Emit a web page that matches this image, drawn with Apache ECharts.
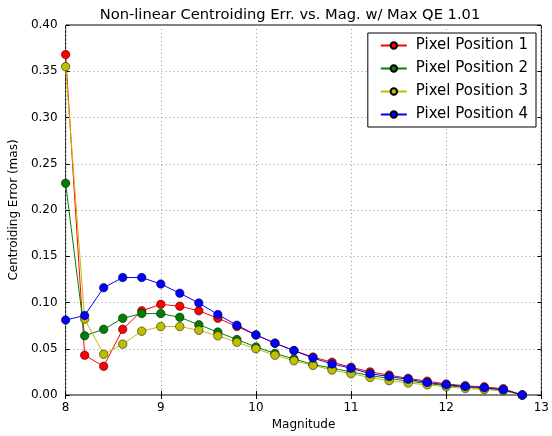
<!DOCTYPE html>
<html>
<head>
<meta charset="utf-8">
<script src="https://cdn.jsdelivr.net/npm/echarts@6/dist/echarts.min.js"></script>
<style>
  html, body { margin: 0; padding: 0; background: #fff; }
  #chart { width: 552px; height: 436px; }
</style>
</head>
<body>
<div id="chart"></div>
<script>
// magnitudes sampled every 0.2
const mags = [8.0, 8.2, 8.4, 8.6, 8.8, 9.0, 9.2, 9.4, 9.6, 9.8, 10.0, 10.2, 10.4,
  10.6, 10.8, 11.0, 11.2, 11.4, 11.6, 11.8, 12.0, 12.2, 12.4, 12.6, 12.8]

const pos1 = [0.368, 0.043, 0.031, 0.071, 0.091, 0.098, 0.096, 0.091, 0.083, 0.074, 0.065, 0.056, 0.048,
  0.041, 0.0355, 0.030, 0.025, 0.0215, 0.018, 0.015, 0.012, 0.010, 0.0088, 0.0068, 0.0]
const pos2 = [0.229, 0.064, 0.071, 0.083, 0.088, 0.088, 0.084, 0.076, 0.068, 0.060, 0.052, 0.045, 0.039,
  0.033, 0.029, 0.025, 0.021, 0.018, 0.015, 0.0125, 0.010, 0.0085, 0.007, 0.0055, 0.0]
const pos3 = [0.355, 0.082, 0.044, 0.055, 0.069, 0.074, 0.074, 0.070, 0.064, 0.057, 0.050, 0.043, 0.037,
  0.032, 0.027, 0.023, 0.019, 0.0155, 0.013, 0.011, 0.0088, 0.007, 0.0058, 0.0046, 0.0]
const pos4 = [0.081, 0.086, 0.116, 0.127, 0.127, 0.120, 0.110, 0.0995, 0.087, 0.0755, 0.065, 0.056, 0.048,
  0.040, 0.0335, 0.029, 0.023, 0.020, 0.017, 0.0135, 0.011, 0.0092, 0.0078, 0.0058, 0.0]

const seriesNames = ['Pixel Position 1', 'Pixel Position 2', 'Pixel Position 3', 'Pixel Position 4']
const seriesColors = ['#ff0000', '#008000', '#bfbf00', '#0000ff']
const seriesValues = [pos1, pos2, pos3, pos4]

const xTicks = [8, 9, 10, 11, 12, 13]

const font = 'DejaVu Sans'
const chart = echarts.init(document.getElementById('chart'))

const dottedSplit = { show: true, lineStyle: { color: '#999', type: [1, 3], width: 1 } }

const option = {
  animation: false,
  textStyle: { fontFamily: font },
  title: {
    text: 'Non-linear Centroiding Err. vs. Mag. w/ Max QE 1.01',
    left: 285,
    textAlign: 'center',
    top: 3,
    textStyle: { fontFamily: font, fontSize: 14.7, fontWeight: 'normal', color: '#000' }
  },
  grid: { left: 60, right: 8, top: 25, bottom: 37, show: true, borderColor: '#000', borderWidth: 1 },
  legend: {
    data: seriesNames,
    orient: 'vertical',
    right: 16,
    top: 33,
    itemWidth: 26,
    itemHeight: 8,
    itemGap: 8,
    padding: [5, 8, 5, 12],
    borderColor: '#000',
    borderWidth: 1,
    borderRadius: 0,
    backgroundColor: '#fff',
    textStyle: { fontFamily: font, fontSize: 15, color: '#000', padding: [0, 0, 0, 4] }
  },
  xAxis: [
    {
      type: 'value', min: 8, max: 13, interval: 1,
      name: 'Magnitude', nameLocation: 'middle', nameGap: 24,
      nameTextStyle: { fontFamily: font, fontSize: 12, color: '#000' },
      axisLine: { show: false },
      axisTick: { show: true, inside: true, length: 4, lineStyle: { color: '#000' } },
      axisLabel: { color: '#000', fontSize: 12, margin: 7,
        formatter: v => xTicks.includes(v) ? String(v) : '' },
      splitLine: dottedSplit
    },
    {
      type: 'value', min: 8, max: 13, interval: 1, position: 'top',
      axisLine: { show: false },
      axisTick: { show: true, inside: true, length: 4, lineStyle: { color: '#000' } },
      axisLabel: { show: false }, splitLine: { show: false }
    }
  ],
  yAxis: [
    {
      type: 'value', min: 0, max: 0.4, interval: 0.05,
      name: 'Centroiding Error (mas)', nameLocation: 'middle', nameGap: 44,
      nameTextStyle: { fontFamily: font, fontSize: 12, color: '#000' },
      axisLine: { show: false },
      axisTick: { show: true, inside: true, length: 4, lineStyle: { color: '#000' } },
      axisLabel: { color: '#000', fontSize: 12, margin: 8, formatter: v => v.toFixed(2) },
      splitLine: dottedSplit
    },
    {
      type: 'value', min: 0, max: 0.4, interval: 0.05, position: 'right',
      axisLine: { show: false },
      axisTick: { show: true, inside: true, length: 4, lineStyle: { color: '#000' } },
      axisLabel: { show: false }, splitLine: { show: false }
    }
  ],
  series: seriesNames.map((name, i) => ({
    name,
    type: 'line',
    data: mags.map((m, j) => [m, seriesValues[i][j]]),
    symbol: 'circle',
    symbolSize: 8.5,
    lineStyle: { color: seriesColors[i], width: 1 },
    itemStyle: { color: seriesColors[i], borderColor: '#000', borderWidth: 0.5 }
  }))
}

chart.setOption(option)
</script>
</body>
</html>
